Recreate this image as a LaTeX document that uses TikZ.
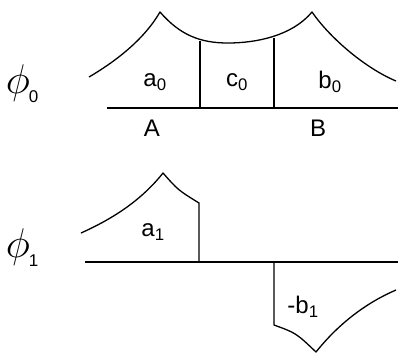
\documentclass[tikz,border=0pt]{standalone}
\usepackage{graphicx}
\usepackage{fontspec}
\setmainfont{Liberation Sans}
\newcommand{\philab}[1]{\scalebox{2}{$\phi$}\kern-1pt\raisebox{-9pt}{\fontsize{17}{17}\selectfont #1}}
\begin{document}
\begin{tikzpicture}[x=1pt,y=-1pt,line width=1.3pt,line join=round,
  lbl/.style={inner sep=0pt,font=\fontsize{24}{24}\selectfont},
  phil/.style={inner sep=0pt,font=\fontsize{20}{20}\selectfont}]
\useasboundingbox (0,0) rectangle (398,357);
% top diagram
\draw (89,77) .. controls (118,60) and (145,38) .. (160,12)
  .. controls (180,35) and (200,43) .. (228,43)
  .. controls (256,43) and (292,36) .. (312,12)
  .. controls (330,38) and (365,68) .. (396,81);
\draw (107,108) -- (398,108);
\draw (200,41) -- (200,108);
\draw (274,38) -- (274,108);
\node[lbl] (a0) at (155,82) {a\textsubscript{0}};
\node[lbl] (c0) at (237,82) {c\textsubscript{0}};
\node[lbl] (b0) at (330,82) {b\textsubscript{0}};
\node[lbl] (A) at (152,128) {A};
\node[lbl] (B) at (318,128) {B};
\node[phil] (phi0) at (22,84) {\philab{0}};
% bottom diagram
\draw (81,233) .. controls (110,220) and (140,202) .. (163,173)
  .. controls (178,190) .. (199,203) -- (199,262);
\draw (85,262) -- (398,262);
\draw (274,263) -- (274,325) .. controls (296,333) .. (316,352)
  .. controls (340,322) and (368,302) .. (396,290);
\node[lbl] (a1) at (153,232) {a\textsubscript{1}};
\node[lbl] (b1) at (303,307) {-b\textsubscript{1}};
\node[phil] (phi1) at (22,248) {\philab{1}};
\end{tikzpicture}
\end{document}
